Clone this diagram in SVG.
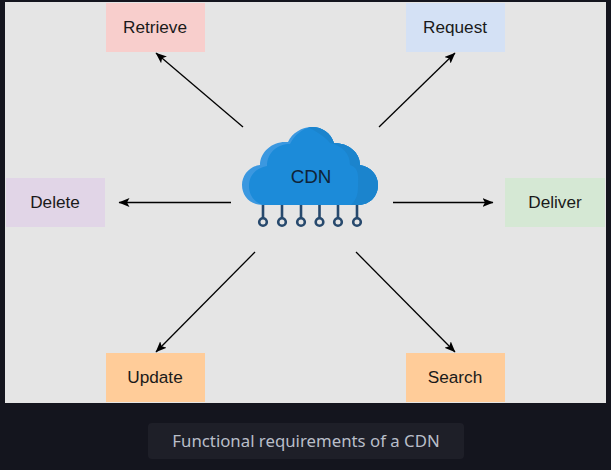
<svg xmlns="http://www.w3.org/2000/svg" width="611" height="470" viewBox="0 0 611 470">
<style>
.lbl{font-family:"Liberation Sans",Arial,sans-serif;font-size:17.2px;fill:#1a1a1a;text-anchor:middle}
.c{stroke:#000;stroke-width:1.3;fill:none;marker-end:url(#a)}
.p{stroke:#27496d;stroke-width:2.6;fill:none}
.r{stroke:#27496d;stroke-width:2.6;fill:#e5e5e5}
</style>
<defs><marker id="a" markerWidth="12" markerHeight="10" refX="10.500" refY="4.500" orient="auto" markerUnits="userSpaceOnUse"><path d="M0 0L11 4.500L0 9L2.500 4.500Z" fill="#000"/></marker>
<clipPath id="cc"><path d="M263 205C250 205 242 196 242 185C242 175 250 166 260 165C260 152 272 142 285 142C286 142 287 142 288 142C292 133 302 127 312 127C322 127 331 133 334 143C348 143 360 152 360 165C371 167 378 175 378 185C378 196 370 205 358 205Z"/></clipPath></defs>
<rect width="611" height="470" fill="#14151e"/>
<rect x="5" y="2" width="601" height="401" fill="#e5e5e5"/>
<g id="connectors">
<line class="c" x1="243" y1="127" x2="156" y2="53"/>
<line class="c" x1="379" y1="127" x2="455" y2="53"/>
<line class="c" x1="231" y1="202.500" x2="119" y2="202.500"/>
<line class="c" x1="393" y1="202.500" x2="493" y2="202.500"/>
<line class="c" x1="255" y1="252" x2="156" y2="352"/>
<line class="c" x1="356" y1="252" x2="455" y2="352"/>
</g>
<g id="retrieve"><rect x="106" y="3" width="99" height="49" fill="#f8cecc"/><text class="lbl" x="155" y="33">Retrieve</text></g>
<g id="request"><rect x="406" y="3" width="99" height="49" fill="#d4e1f5"/><text class="lbl" x="455" y="33">Request</text></g>
<g id="delete"><rect x="6" y="178" width="99" height="49" fill="#e1d5e7"/><text class="lbl" x="55" y="208">Delete</text></g>
<g id="deliver"><rect x="505" y="178" width="100" height="49" fill="#d5e8d4"/><text class="lbl" x="555" y="208">Deliver</text></g>
<g id="update"><rect x="106" y="353" width="99" height="49" fill="#ffcc99"/><text class="lbl" x="155" y="383">Update</text></g>
<g id="search"><rect x="406" y="353" width="99" height="49" fill="#ffcc99"/><text class="lbl" x="455" y="383">Search</text></g>
<g id="cdn">
<path class="p" d="M263 205V218M282 205V218M301 205V218M319.500 205V218M338 205V218M357 205V218"/>
<circle class="r" cx="263" cy="222" r="3.800"/><circle class="r" cx="282" cy="222" r="3.800"/><circle class="r" cx="301" cy="222" r="3.800"/><circle class="r" cx="319.500" cy="222" r="3.800"/><circle class="r" cx="338" cy="222" r="3.800"/><circle class="r" cx="357" cy="222" r="3.800"/>
<g clip-path="url(#cc)">
<rect x="240" y="125" width="140" height="82" fill="#3b98e0"/>
<path d="M270 206C256 206 249 196 249 186C249 175 256 168 267 166C267 152 278 144 290 144C294 136 302 128 312 127H380V206Z" fill="#1c8bd9"/>
<path d="M308 127C318 132 326 138 330 143C343 146 350 154 350 165C360 168 358 178 358 186C358 196 356 200 350 206H380V125H308Z" fill="#1b84cd"/>
</g>
<text class="lbl" x="311" y="183" style="font-size:18.800px;fill:#0f2338">CDN</text>
</g>
<g id="caption"><rect x="148" y="423" width="316" height="36" rx="4" fill="#1e1f28"/><text x="306" y="447" style="font-family:'Noto Sans',sans-serif;font-size:16.800px;fill:#b9bec8;text-anchor:middle">Functional requirements of a CDN</text></g>
</svg>
